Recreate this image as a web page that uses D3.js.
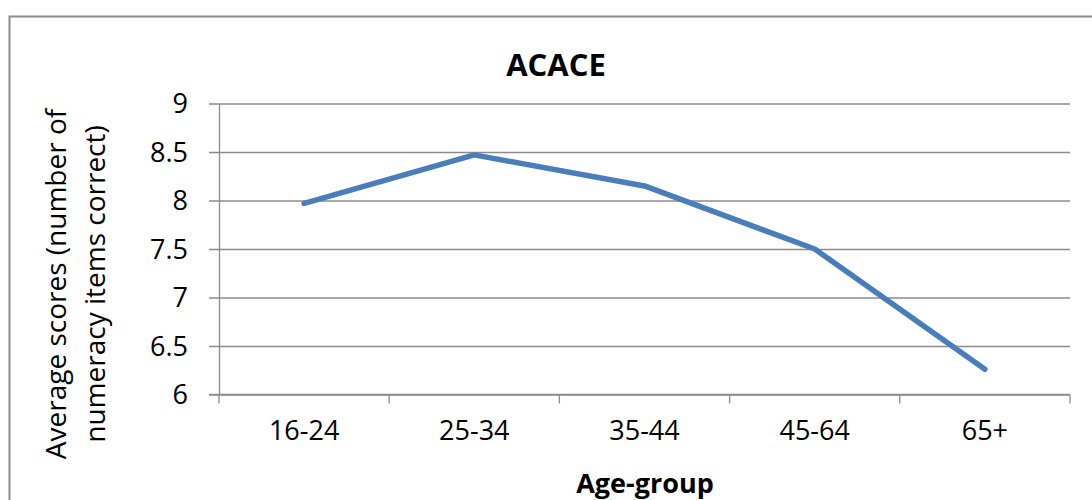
<!DOCTYPE html>
<html>
<head>
<meta charset="utf-8">
<script src="https://cdn.jsdelivr.net/npm/d3@7"></script>
<style>
  html, body { margin: 0; padding: 0; background: #fff; }
  svg { display: block; }
  text { font-family: "Open Sans", "Noto Sans", sans-serif; fill: #000; }
</style>
</head>
<body>
<svg id="chart" width="1092" height="500"></svg>
<script>
const categories = ["16-24", "25-34", "35-44", "45-64", "65+"];
const scores = [7.97, 8.47, 8.15, 7.50, 6.26];
const yTicks = [6, 6.5, 7, 7.5, 8, 8.5, 9];
const title = "ACACE";
const xTitle = "Age-group";
const yTitleLines = ["Average scores (number of", "numeracy items correct)"];

const svg = d3.select("#chart");
const m = { left: 219, right: 1070, top: 103.5, bottom: 394.5 };

// outer frame
svg.append("rect")
  .attr("x", 9.5).attr("y", 16.5)
  .attr("width", 1100).attr("height", 520)
  .attr("fill", "none").attr("stroke", "#8c8c8c").attr("stroke-width", 2);

const x = d3.scaleBand().domain(categories).range([m.left, m.right]).padding(0);
const y = d3.scaleLinear().domain([6, 9]).range([m.bottom, m.top]);

// gridlines + y axis
const yAxis = d3.axisLeft(y).tickValues(yTicks)
  .tickFormat(d3.format("~g"))
  .tickSize(-(m.right - m.left)).tickSizeOuter(0).tickPadding(21);
const gy = svg.append("g").attr("transform", `translate(${m.left},0)`).call(yAxis);
gy.select(".domain").attr("stroke", "#8c8c8c").attr("stroke-width", 1.3);
gy.selectAll(".tick line").attr("stroke", "#8c8c8c").attr("stroke-width", 1.3)
  .attr("x1", -10);
gy.selectAll(".tick text").attr("font-size", 27).attr("dy", "0.34em")
  .style("font-family", '"Open Sans", sans-serif').attr("x", -31);

// x axis
const xAxis = d3.axisBottom(x).tickSize(0).tickSizeOuter(0).tickPadding(26);
const gx = svg.append("g").attr("transform", `translate(0,${m.bottom})`).call(xAxis);
gx.select(".domain").attr("stroke", "#8c8c8c").attr("stroke-width", 1.3)
  .attr("d", `M${m.left - 10},0H${m.right}`);
gx.selectAll(".tick text").attr("font-size", 27).attr("dy", "0.71em")
  .style("font-family", '"Open Sans", sans-serif');
// category boundary tick marks
const bounds = categories.map(c => x(c)).concat([x(categories[categories.length - 1]) + x.bandwidth()]);
gx.selectAll(".bound").data(bounds).join("line")
  .attr("class", "bound")
  .attr("x1", d => d).attr("x2", d => d)
  .attr("y1", 0).attr("y2", 9)
  .attr("stroke", "#8c8c8c").attr("stroke-width", 1.3);

// line
const line = d3.line()
  .x((d, i) => x(categories[i]) + x.bandwidth() / 2)
  .y(d => y(d));
svg.append("path").datum(scores)
  .attr("d", line)
  .attr("fill", "none")
  .attr("stroke", "#4a7ebb")
  .attr("stroke-width", 5.5)
  .attr("stroke-linejoin", "round")
  .attr("stroke-linecap", "round");

// title
svg.append("text").attr("x", 556).attr("y", 76)
  .attr("text-anchor", "middle").attr("font-size", 31).attr("font-weight", "bold")
  .text(title);

// x title
svg.append("text").attr("x", 645).attr("y", 493)
  .attr("text-anchor", "middle").attr("font-size", 27).attr("font-weight", "bold")
  .text(xTitle);

// y title
const yt = svg.append("text")
  .attr("transform", "translate(0,284) rotate(-90)")
  .attr("text-anchor", "middle").attr("font-size", 28);
yt.append("tspan").attr("x", 0).attr("y", 66).text(yTitleLines[0]);
yt.append("tspan").attr("x", 0).attr("y", 105).text(yTitleLines[1]);
</script>
</body>
</html>
